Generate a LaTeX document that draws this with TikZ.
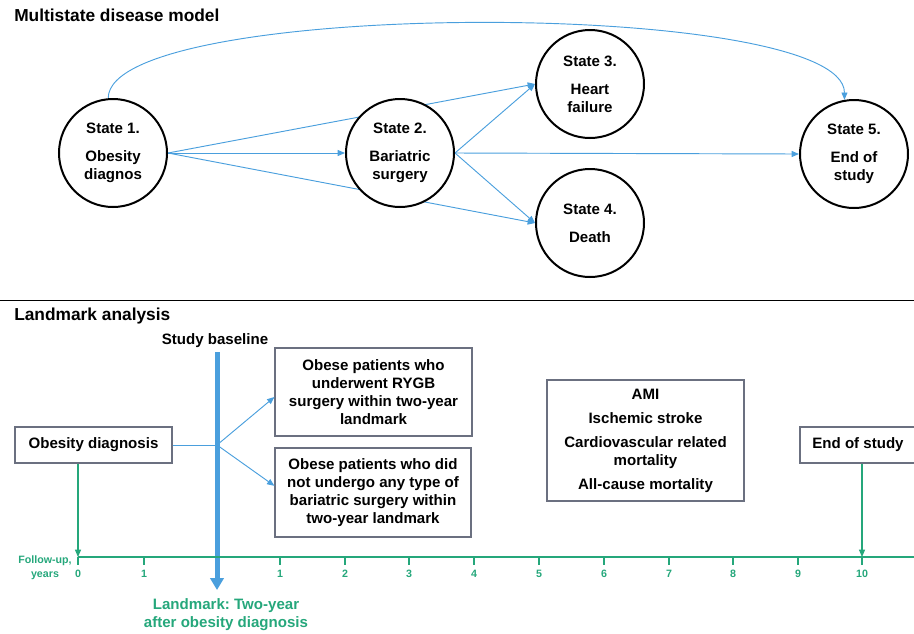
\documentclass[tikz,border=0pt]{standalone}
\usepackage{fontspec}
\setmainfont{Liberation Sans}
\usetikzlibrary{arrows.meta,backgrounds}
\definecolor{linkblue}{HTML}{4A9FDD}
\definecolor{axisgreen}{HTML}{25A77B}
\definecolor{boxgray}{HTML}{6B7080}
\frenchspacing

\begin{document}
\begin{tikzpicture}[x=0.75pt, y=-0.75pt, >={Triangle[length=5.5pt,width=4.5pt]},
    every node/.style={font=\bfseries\fontsize{11.3}{13.5}\selectfont},
    state/.style={circle, draw=black, line width=1.5pt, fill=white, minimum size=81pt, inner sep=0pt, align=center},
    link/.style={->, linkblue, line width=0.7pt},
    box/.style={draw=boxgray, line width=0.9pt, fill=white, align=center, inner sep=0pt},
    axislabel/.style={axisgreen, inner sep=0pt, font=\bfseries\fontsize{8}{10.5}\selectfont}]

    % Cornice
    \useasboundingbox (0,0) rectangle (914,633);

    % Modello multistato
    \node[anchor=west, inner sep=0pt, font=\bfseries\fontsize{13}{15}\selectfont] (title1) at (14,15) {Multistate disease model};

    \node[state] (s1) at (113,153) {State 1.\\[7.5pt]Obesity\\diagnos};
    \node[state] (s2) at (400,153) {State 2.\\[7.5pt]Bariatric\\surgery};
    \node[state] (s3) at (590,84)  {State 3.\\[7.5pt]Heart\\failure};
    \node[state] (s4) at (590,223) {State 4.\\[7.5pt]Death};
    \node[state] (s5) at (854,154) {State 5.\\[7.5pt]End of\\study};

    % Transizioni (sotto i cerchi)
    \begin{scope}[on background layer]
        \draw[link] (s1.east) -- (s2.west);
        \draw[link] (s1.east) -- (s3.west);
        \draw[link] (s1.east) -- (s4.west);
        \draw[link] (s2.east) -- (s3.west);
        \draw[link] (s2.east) -- (s4.west);
        \draw[link] (s2.east) -- (s5.west);
        \draw[link] (s1.95) .. controls +(0,-100) and +(0,-102) .. (s5.100);
    \end{scope}

    % Separatore
    \draw[line width=0.75pt] (0,300) -- (914,300);

    % Analisi landmark
    \node[anchor=west, inner sep=0pt, font=\bfseries\fontsize{13}{15}\selectfont] (title2) at (14,316) {Landmark analysis};
    \node (sb) at (215,341) {Study baseline};

    \node[box, minimum width=117.75pt, minimum height=27pt] (obdx) at (93.5,445) {Obesity diagnosis};
    \node[box, minimum width=147.75pt, minimum height=66pt] (boxA) at (373.5,392) {Obese patients who\\underwent RYGB\\surgery within two-year\\landmark};
    \node[box, minimum width=147pt, minimum height=66.75pt] (boxB) at (373,492.5) {Obese patients who did\\not undergo any type of\\bariatric surgery within\\two-year landmark};
    \node[box, minimum width=147.75pt, minimum height=90.75pt] (outc) at (645.5,440.5) {AMI\\[4.5pt]Ischemic stroke\\[4.5pt]Cardiovascular related\\mortality\\[4.5pt]All-cause mortality};
    \node[box, minimum width=87pt, minimum height=27pt] (eos) at (858,445) {End of study};

    % Linea landmark
    \coordinate (bltop) at (217,352);
    \coordinate (bltip) at (217,590);
    \path (obdx.east -| bltop) coordinate (br);
    \draw[linkblue, line width=0.7pt] (obdx.east) -- (br);
    \draw[link] (br) -- ([yshift=-3.75pt]boxA.west);
    \draw[link] (br) -- ([yshift=5pt]boxB.west);
    \draw[linkblue, line width=3.75pt, -{Triangle[length=9pt,width=10pt]}] (bltop) -- (bltip);
    \node[axisgreen, align=center] (lmtext) at (226,615) {Landmark: Two-year\\after obesity diagnosis};

    % Asse del follow-up
    \coordinate (ax0) at (78,557);
    \coordinate (axend) at (914,557);
    \draw[axisgreen, line width=1pt] (ax0) -- (axend);
    \foreach \x/\lab [count=\i] in {78/0,144/1,280/1,345/2,409/3,474/4,539/5,604/6,669/7,733/8,798/9,862/10} {
        \coordinate (t\i) at (\x,557);
        \draw[axisgreen, line width=1pt] (t\i) -- (\x,565);
        \node[axislabel] (tl\i) at (\x,574) {\lab};
    }
    \node[axislabel, align=center] (fu) at (45,568) {Follow-up,\\years};

    \draw[->, axisgreen, line width=0.8pt] (obdx.south -| t1) -- (t1);
    \draw[->, axisgreen, line width=0.8pt] (eos.south -| t12) -- (t12);

\end{tikzpicture}
\end{document}
